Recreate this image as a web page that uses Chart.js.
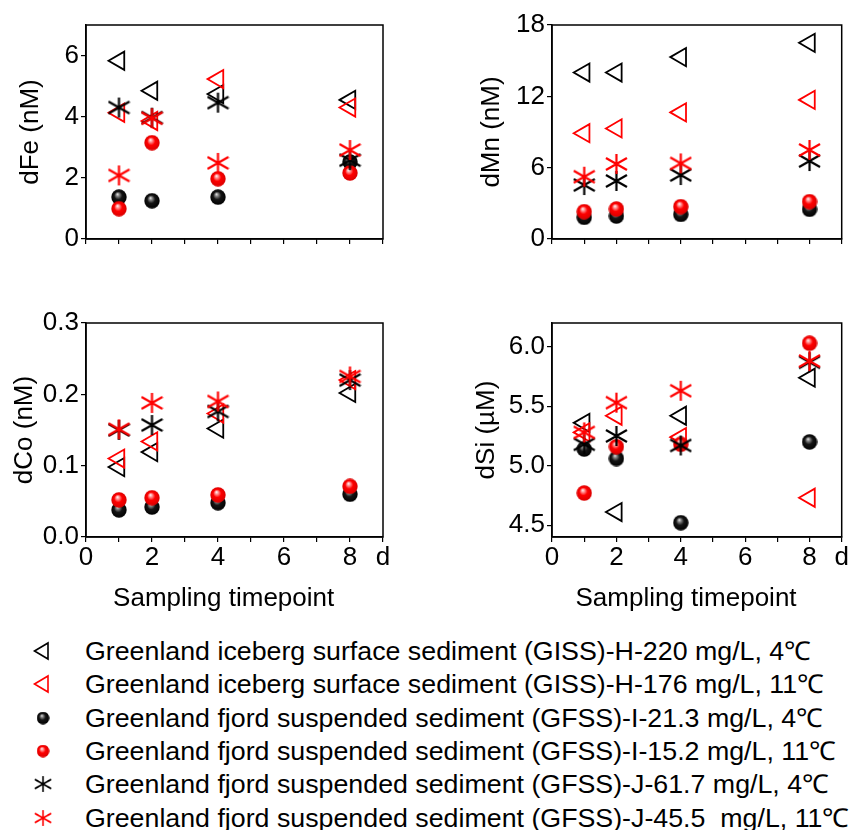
<!DOCTYPE html>
<html>
<head>
<meta charset="utf-8">
<script src="https://cdn.jsdelivr.net/npm/chart.js@4.4.1/dist/chart.umd.min.js"></script>
<style>
  html, body { margin: 0; padding: 0; background: #fff; }
  body { position: relative; width: 854px; height: 830px; overflow: hidden; }
  .panel { position: absolute; }
  .row { position: absolute; left: 0; width: 854px; height: 34px; white-space: pre; }
  .row canvas { position: absolute; left: 31px; top: 5px; }
  .row span { position: absolute; left: 85px; top: 0; font: 26px "Liberation Sans Narrow", "Liberation Sans", Arial, sans-serif; line-height: 34px; color: #000; transform-origin: 0 50%; white-space: pre; }
</style>
</head>
<body>
<canvas class="panel" id="fe" width="420" height="280" style="left:0;top:0"></canvas>
<canvas class="panel" id="mn" width="434" height="280" style="left:420px;top:0"></canvas>
<canvas class="panel" id="co" width="420" height="330" style="left:0;top:290px"></canvas>
<canvas class="panel" id="si" width="434" height="330" style="left:420px;top:290px"></canvas>
<div id="legend"></div>
<script>
// sampling days and x axis
const days = [1, 2, 4, 8];
const xTicks = [0, 1, 2, 3, 4, 5, 6, 7, 8, 9];
const xTickLabels = ['0', '', '2', '', '4', '', '6', '', '8', 'd'];

const seriesNames = [
  'Greenland iceberg surface sediment (GISS)-H-220 mg/L, 4\u2103',
  'Greenland iceberg surface sediment (GISS)-H-176 mg/L, 11\u2103',
  'Greenland fjord suspended sediment (GFSS)-I-21.3 mg/L, 4\u2103',
  'Greenland fjord suspended sediment (GFSS)-I-15.2 mg/L, 11\u2103',
  'Greenland fjord suspended sediment (GFSS)-J-61.7 mg/L, 4\u2103',
  'Greenland fjord suspended sediment (GFSS)-J-45.5  mg/L, 11\u2103'
];

// dFe (nM)
const feH220 = [5.83, 4.85, 4.74, 4.55];
const feH176 = [4.13, 3.86, 5.23, 4.30];
const feI213 = [1.37, 1.25, 1.37, 2.52];
const feI152 = [0.99, 3.15, 1.97, 2.16];
const feJ617 = [4.30, 3.97, 4.46, 2.58];
const feJ455 = [2.08, 3.95, 2.49, 2.91];

// dMn (nM)
const mnH220 = [14.0, 14.0, 15.3, 16.5];
const mnH176 = [8.9, 9.3, 10.65, 11.7];
const mnI213 = [1.82, 1.93, 2.07, 2.5];
const mnI152 = [2.3, 2.52, 2.72, 3.14];
const mnJ617 = [4.54, 4.88, 5.38, 6.56];
const mnJ455 = [5.24, 6.31, 6.36, 7.49];

// dCo (nM)
const coH220 = [0.098, 0.119, 0.152, 0.202];
const coH176 = [0.110, 0.134, 0.173, 0.220];
const coI213 = [0.038, 0.042, 0.048, 0.060];
const coI152 = [0.052, 0.055, 0.059, 0.071];
const coJ617 = [0.150, 0.157, 0.176, 0.220];
const coJ455 = [0.151, 0.188, 0.190, 0.225];

// dSi (uM)
const siH220 = [5.36, 4.61, 5.42, 5.74];
const siH176 = [5.28, 5.42, 5.24, 4.73];
const siI213 = [5.14, 5.06, 4.52, 5.20];
const siI152 = [4.77, 5.16, 5.18, 6.03];
const siJ617 = [5.18, 5.25, 5.17, 5.87];
const siJ455 = [5.28, 5.53, 5.63, 5.88];

// y ticks
const feTicks = [0, 2, 4, 6];
const mnTicks = [0, 6, 12, 18];
const coTicks = [0, 0.1, 0.2, 0.3];
const coTickLabels = ['0.0', '0.1', '0.2', '0.3'];
const siTicks = [4.5, 5.0, 5.5, 6.0];
const siTickLabels = ['4.5', '5.0', '5.5', '6.0'];

Chart.defaults.font.family = '"Liberation Sans", Arial, sans-serif';
Chart.defaults.color = '#000';

const BLACK = '#000000';
const RED = '#ff0000';

function makeSphere(stops, d) {
  const c = document.createElement('canvas');
  c.width = c.height = d;
  const g = c.getContext('2d');
  const r = d / 2;
  const grad = g.createRadialGradient(r * 0.8, r * 0.62, 0, r, r, r);
  stops.forEach(s => grad.addColorStop(s[0], s[1]));
  g.fillStyle = grad;
  g.beginPath();
  g.arc(r, r, r - 0.3, 0, Math.PI * 2);
  g.fill();
  return c;
}

function makeStar(color, w, h, lw) {
  const c = document.createElement('canvas');
  c.width = w + 2;
  c.height = h + 2;
  const g = c.getContext('2d');
  const cx = c.width / 2, cy = c.height / 2;
  g.strokeStyle = color;
  g.lineWidth = lw;
  g.beginPath();
  g.moveTo(cx, cy - h / 2); g.lineTo(cx, cy + h / 2);
  g.moveTo(cx - w / 2, cy - h * 0.3); g.lineTo(cx + w / 2, cy + h * 0.3);
  g.moveTo(cx + w / 2, cy - h * 0.3); g.lineTo(cx - w / 2, cy + h * 0.3);
  g.stroke();
  return c;
}

const blackStops = [[0, '#f2f2f2'], [0.2, '#8a8a8a'], [0.5, '#151515'], [1, '#000']];
const redStops = [[0, '#ffffff'], [0.2, '#ff9a9a'], [0.5, '#ff0000'], [1, '#d80000']];

const pointStyles = [
  'triangle', 'triangle',
  makeSphere(blackStops, 16), makeSphere(redStops, 16),
  makeStar(BLACK, 21, 20, 2.2), makeStar(RED, 21, 20, 2.2)
];
const colors = [BLACK, RED, BLACK, RED, BLACK, RED];

function buildDatasets(values) {
  return values.map((vals, i) => ({
    label: seriesNames[i],
    data: days.map((d, k) => ({ x: d, y: vals[k] })),
    pointStyle: pointStyles[i],
    pointRadius: 10.5,
    rotation: i < 2 ? -90 : 0,
    borderColor: colors[i],
    backgroundColor: 'rgba(0,0,0,0)',
    borderWidth: 1.8,
    showLine: false,
    order: 6 - i
  }));
}

const frame = {
  id: 'frame',
  afterDraw(chart) {
    const { ctx, chartArea: a } = chart;
    ctx.save();
    ctx.strokeStyle = '#000';
    ctx.lineWidth = 1.5;
    ctx.strokeRect(a.left, a.top, a.right - a.left, a.bottom - a.top);
    ctx.restore();
  }
};

const axisGrid = { drawOnChartArea: false, drawTicks: true, tickLength: 5, color: '#000', lineWidth: 1.2 };
const axisBorder = { display: true, color: '#000', width: 1.5 };

function drawPanel(id, cfg) {
  new Chart(document.getElementById(id), {
    type: 'scatter',
    data: { datasets: buildDatasets(cfg.values) },
    options: {
      responsive: false,
      animation: false,
      layout: { padding: { top: cfg.padTop, right: cfg.padRight, left: 0, bottom: 0 } },
      plugins: { legend: { display: false }, tooltip: { enabled: false } },
      scales: {
        x: {
          type: 'linear', min: 0, max: 9,
          afterBuildTicks: s => { s.ticks = xTicks.map(v => ({ value: v })); },
          afterFit: s => { s.height = cfg.xh; s.paddingLeft = 0; s.paddingRight = 0; },
          ticks: {
            autoSkip: false, maxRotation: 0, padding: 0, font: { size: 26 },
            callback: (v, i) => cfg.xLabels ? xTickLabels[i] : ''
          },
          grid: axisGrid,
          border: axisBorder,
          title: {
            display: cfg.xLabels, text: 'Sampling timepoint   ',
            font: { size: 26 }, padding: { top: 0, bottom: 6 }
          }
        },
        y: {
          type: 'linear', min: cfg.min, max: cfg.max,
          afterBuildTicks: s => { s.ticks = cfg.ticks.map(v => ({ value: v })); },
          afterFit: s => { s.width = cfg.yw; s.paddingTop = 0; s.paddingBottom = 0; },
          ticks: { padding: 2, font: { size: 26 }, callback: (v, i) => cfg.labels[i] },
          grid: axisGrid,
          border: axisBorder,
          title: {
            display: true, text: cfg.title, font: { size: 26 },
            padding: { top: cfg.titleX - 15.6, bottom: 0 }
          }
        }
      }
    },
    plugins: [frame]
  });
}

drawPanel('fe', {
  values: [feH220, feH176, feI213, feI152, feJ617, feJ455],
  min: 0, max: 7, ticks: feTicks, labels: feTicks.map(String),
  title: 'dFe (nM)', titleX: 31, yw: 86, xh: 41, padTop: 25, padRight: 37, xLabels: false
});
drawPanel('mn', {
  values: [mnH220, mnH176, mnI213, mnI152, mnJ617, mnJ455],
  min: 0, max: 18, ticks: mnTicks, labels: mnTicks.map(String),
  title: 'dMn (nM)', titleX: 72, yw: 132, xh: 41, padTop: 25, padRight: 6, xLabels: false
});
drawPanel('co', {
  values: [coH220, coH176, coI213, coI152, coJ617, coJ455],
  min: 0, max: 0.3, ticks: coTicks, labels: coTickLabels,
  title: 'dCo (nM)', titleX: 25, yw: 86, xh: 83, padTop: 33, padRight: 37, xLabels: true
});
drawPanel('si', {
  values: [siH220, siH176, siI213, siI152, siJ617, siJ455],
  min: 4.4, max: 6.2, ticks: siTicks, labels: siTickLabels,
  title: 'dSi (\u00b5M)', titleX: 67, yw: 132, xh: 83, padTop: 33, padRight: 6, xLabels: true
});

// legend
function drawLegendMarker(g, i) {
  const cx = 12, cy = 12;
  if (i < 2) {
    g.strokeStyle = colors[i];
    g.lineWidth = 1.6;
    g.beginPath();
    g.moveTo(cx - 8.5, cy);
    g.lineTo(cx + 5, cy - 8);
    g.lineTo(cx + 5, cy + 8);
    g.closePath();
    g.stroke();
  } else {
    const img = pointStyles[i];
    const s = i < 4 ? 13 / img.width : 18 / img.width;
    g.drawImage(img, cx - img.width * s / 2, cy - img.height * s / 2, img.width * s, img.height * s);
  }
}

const legend = document.getElementById('legend');
seriesNames.forEach((name, i) => {
  const row = document.createElement('div');
  row.className = 'row';
  row.style.top = (634 + i * 33.3) + 'px';
  const c = document.createElement('canvas');
  c.width = 24;
  c.height = 24;
  drawLegendMarker(c.getContext('2d'), i);
  const s = document.createElement('span');
  s.textContent = name;
  row.append(c, s);
  legend.append(row);
});
const spans = legend.querySelectorAll('span');
const k = 726 / spans[0].getBoundingClientRect().width;
spans.forEach(s => { s.style.transform = 'scaleX(' + k + ')'; });
</script>
</body>
</html>
